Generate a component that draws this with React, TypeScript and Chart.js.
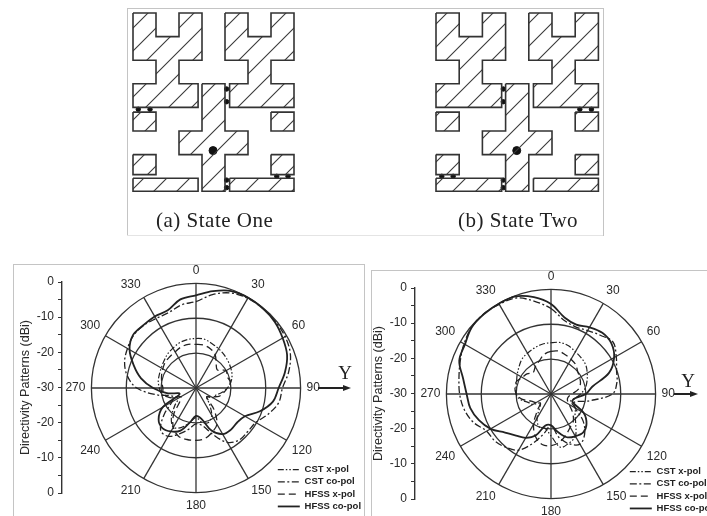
import React, { useEffect, useRef } from "react";
import { Chart, registerables } from "chart.js";

Chart.register(...registerables);

const FONT = "'Liberation Sans', Arial, sans-serif";
const INK = "#2a2a2a";

// ---------- polar data (dBi, every 10 degrees, clockwise from 0) ----------
const angleLabels = Array.from({ length: 36 }, (_, i) => String(i * 10));
const seriesNames = ["CST x-pol", "CST co-pol", "HFSS x-pol", "HFSS co-pol"];

const oneCstX = [-15.8,-15.8,-16.5,-17,-17.5,-18,-18.5,-19,-19.8,-21,-22.5,-24,-24.5,-26,-24,-21,-19.5,-20,-21.5,-20,-18,-17,-19,-22,-24,-22,-20,-19.5,-19,-18.8,-18.5,-18,-17.3,-16.8,-16.2,-15.9];
const oneCstCo = [-5.2,-2.8,-1,-0.3,-0.2,-0.3,-0.5,-1.2,-3,-5.2,-5.9,-8,-10.2,-10.6,-10.6,-12,-15.8,-19,-19.7,-18,-16,-14,-14.2,-18,-22,-23,-18.6,-13,-10,-8.2,-7.3,-6.6,-6.6,-7,-7,-5.8];
const oneHfssX = [-17.5,-17.5,-18,-19,-21,-22,-20,-20.5,-20,-21,-22,-23,-25,-26,-22,-18,-16.5,-15.3,-15,-15,-15.3,-17,-20,-24,-25,-22,-20.5,-20.5,-20,-19.5,-19,-18.5,-18.3,-18,-17.5,-17.3];
const oneHfssCo = [-3.4,-1.8,-0.4,-0.1,-0.2,-0.5,-1.3,-2.2,-4.1,-6.3,-7.6,-10.5,-13.8,-14.6,-14.4,-14.7,-17,-21,-22,-20,-17,-15.6,-15,-16,-19,-25,-21.5,-17.7,-14,-11,-8,-6.4,-6.5,-6.3,-6.3,-4.2];

const twoCstX = [-15.3,-15,-15.3,-16,-16.5,-17,-18,-19,-20,-21.5,-23,-24,-22,-21,-19,-16,-15,-14.5,-18,-20,-20,-22,-25,-26,-24,-23,-21,-20,-19.8,-19.5,-18.8,-18,-17,-16.5,-16,-15.5];
const twoCstCo = [-5.5,-8.5,-9.5,-9,-8,-6.8,-8.4,-10,-10.8,-12.4,-18.8,-23,-22,-18,-15,-13.4,-14.8,-17.5,-21,-18.5,-15,-11.4,-10,-9,-8.7,-6.3,-4.7,-3.8,-3.2,-2.3,-1.2,-0.3,0,-0.3,-0.7,-3];
const twoHfssX = [-17.8,-17.5,-18,-18.5,-19,-20,-20.5,-21,-22,-24,-25,-25,-24,-22,-20,-19,-17.5,-16,-15.2,-15.3,-17,-20,-24,-26,-25,-24,-21.5,-20,-19.5,-19.5,-20.5,-21,-22,-21,-20,-18.5];
const twoHfssCo = [-4.2,-7.7,-8.8,-7.9,-7.1,-7.4,-9.1,-12.3,-18,-20,-23,-23.5,-19.2,-16.7,-15.6,-16,-16.8,-19,-21,-20.8,-17.4,-15.5,-14.4,-12.8,-10,-8,-6.5,-5.8,-4.4,-2,-1.5,-0.3,-0.1,-0.1,-0.2,-1.8];

const seriesDash = [[6, 2, 1.5, 2, 1.5, 2], [7, 2.5, 2, 2.5], [7, 4], []];
const seriesWidth = [1.2, 1.3, 1.3, 1.8];

const axisTickLabels = ["0", "-10", "-20", "-30", "-20", "-10", "0"];
const axisTitle = "Directivity Patterns (dBi)";

// ---------- antenna layouts, in patch-grid units ----------
type P = [number, number];
const BAR_L = 2.83;
const BAR_R = 4.2;
const upperLeft: P[] = [[0,0],[1,0],[1,1],[2,1],[2,0],[3,0],[3,2],[2,2],[2,3],[BAR_L,3],[BAR_L,4],[0,4],[0,3],[1,3],[1,2],[0,2]];
const upperRight: P[] = [[4,0],[5,0],[5,1],[6,1],[6,0],[7,0],[7,2],[6,2],[6,3],[7,3],[7,4],[BAR_R,4],[BAR_R,3],[5,3],[5,2],[4,2]];
const centreCross: P[] = [[3,3],[4,3],[4,5],[5,5],[5,6],[4,6],[4,7.55],[3,7.55],[3,6],[2,6],[2,5],[3,5]];
const rectangle = (a: number, b: number, c: number, d: number): P[] => [[a,b],[c,b],[c,d],[a,d]];
const patches: P[][] = [
  upperLeft, upperRight, centreCross,
  rectangle(0, 4.2, 1, 5), rectangle(6, 4.2, 7, 5),
  rectangle(0, 6, 1, 6.85), rectangle(6, 6, 7, 6.85),
  rectangle(0, 7, BAR_L, 7.55), rectangle(BAR_R, 7, 7, 7.55),
];
const feedPoint: P = [3.48, 5.83];
const switchesOne: P[] = [[0.23,4.08],[0.74,4.08],[4.07,3.22],[4.07,3.76],[4.07,7.08],[4.07,7.4],[6.25,6.92],[6.74,6.92]];
const switchesTwo: P[] = [[2.9,3.22],[2.9,3.76],[2.9,7.08],[2.9,7.4],[6.2,4.08],[6.7,4.08],[0.25,6.92],[0.74,6.92]];

function hatch(): CanvasPattern | string {
  const size = 23;
  const c = document.createElement("canvas");
  c.width = size; c.height = size;
  const g = c.getContext("2d")!;
  g.strokeStyle = "#3a3a3a";
  g.lineWidth = 1.1;
  g.beginPath();
  g.moveTo(-2, size + 2); g.lineTo(size + 2, -2);
  g.moveTo(-2, 2); g.lineTo(2, -2);
  g.moveTo(size - 2, size + 2); g.lineTo(size + 2, size - 2);
  g.stroke();
  return g.createPattern(c, "repeat") || "transparent";
}

function Schematic() {
  const ref = useRef<HTMLCanvasElement>(null);
  useEffect(() => {
    const pattern = hatch();
    const close = (p: P[]) => [...p, p[0]].map(([x, y]) => ({ x, y }));
    const pts = (p: P[]) => p.map(([x, y]) => ({ x, y }));
    const panel = (xAxisID: string) => [
      ...patches.map((p) => ({
        xAxisID, yAxisID: "y", data: close(p), showLine: true, tension: 0, fill: "shape",
        backgroundColor: pattern, borderColor: "#333", borderWidth: 1.6, pointRadius: 0,
      })),
    ];
    const dots = (xAxisID: string, p: P[], radius: number) => ({
      xAxisID, yAxisID: "y", data: pts(p), showLine: false,
      backgroundColor: "#111", borderColor: "#111", pointRadius: radius,
    });
    const cellA = 23, cellB = 23.2, cellY = 23.6;
    const W = 707, H = 240;
    const chart = new Chart(ref.current!, {
      type: "scatter",
      data: { datasets: [
        ...panel("xa"), dots("xa", switchesOne, 2.2), dots("xa", [feedPoint], 4),
        ...panel("xb"), dots("xb", switchesTwo, 2.2), dots("xb", [feedPoint], 4),
      ] as any },
      options: {
        animation: false, responsive: false, events: [],
        layout: { padding: 0, autoPadding: false },
        plugins: { legend: { display: false }, tooltip: { enabled: false } },
        scales: {
          xa: { type: "linear", axis: "x", display: false, min: -133 / cellA, max: (W - 133) / cellA },
          xb: { type: "linear", axis: "x", display: false, min: -436 / cellB, max: (W - 436) / cellB },
          y: { type: "linear", display: false, reverse: true, min: -13 / cellY, max: (H - 13) / cellY },
        },
      } as any,
    });
    return () => chart.destroy();
  }, []);
  return <canvas ref={ref} width={707} height={240} style={{ position: "absolute", left: 0, top: 0 }} />;
}

const AXIS_PAD = 12;

function DbAxis({ left, top, height }: { left: number; top: number; height: number }) {
  const ref = useRef<HTMLCanvasElement>(null);
  useEffect(() => {
    const chart = new Chart(ref.current!, {
      type: "scatter",
      data: { datasets: [{ data: [] }] },
      options: {
        animation: false, responsive: false, events: [],
        layout: { padding: { top: AXIS_PAD, bottom: AXIS_PAD, left: 0, right: 0 }, autoPadding: false },
        plugins: { legend: { display: false }, tooltip: { enabled: false } },
        scales: {
          x: { display: false, min: 0, max: 1 },
          y: {
            min: 0, max: 30, reverse: true,
            border: { display: true, color: "#333", width: 1.4 },
            grid: { display: true, drawOnChartArea: false, drawTicks: true, tickLength: 4, color: "#333", lineWidth: 1 },
            ticks: {
              stepSize: 2.5, autoSkip: false, color: INK, padding: 4, maxRotation: 0,
              font: { family: FONT, size: 12 },
              callback: (v: any) => (Number(v) % 5 === 0 ? axisTickLabels[Number(v) / 5] : ""),
            },
            title: { display: true, text: axisTitle, color: INK, font: { family: FONT, size: 12.6 }, padding: { top: 0, bottom: 0 } },
            afterFit: (s: any) => { s.width = 44; },
          },
        },
      } as any,
    });
    return () => chart.destroy();
  }, []);
  return <canvas ref={ref} width={46} height={height + AXIS_PAD * 2} style={{ position: "absolute", left, top: top - AXIS_PAD }} />;
}

function Polar({ series, left, top, width, height, legendX, legendY }: {
  series: number[][]; left: number; top: number; width: number; height: number; legendX: number; legendY: number;
}) {
  const ref = useRef<HTMLCanvasElement>(null);
  useEffect(() => {
    const placeLegend = {
      id: "placeLegend",
      afterLayout(c: any) {
        const l = c.legend;
        if (!l) return;
        const w = l.width, h = l.height;
        l.left = legendX; l.right = legendX + w; l.top = legendY; l.bottom = legendY + h;
      },
    };
    const chart = new Chart(ref.current!, {
      type: "radar",
      data: {
        labels: angleLabels,
        datasets: series.map((data, i) => ({
          label: seriesNames[i], data,
          borderColor: "#222", backgroundColor: "transparent", borderWidth: seriesWidth[i],
          borderDash: seriesDash[i], tension: 0.35, fill: false, pointRadius: 0, pointHitRadius: 0,
        })),
      },
      options: {
        animation: false, responsive: false, events: [],
        layout: { padding: 0, autoPadding: false },
        plugins: {
          tooltip: { enabled: false },
          legend: {
            display: true, position: "chartArea", align: "start", reverse: false,
            labels: {
              usePointStyle: true, pointStyle: "line", pointStyleWidth: 22, boxHeight: 8,
              color: "#222", padding: 2.8, font: { family: FONT, size: 9.5, weight: "bold" },
              generateLabels: (c: any) =>
                Chart.defaults.plugins.legend.labels.generateLabels(c).map((item: any, i: number) => ({
                  ...item, lineDash: seriesDash[i], lineWidth: seriesWidth[i], strokeStyle: "#222",
                })),
            },
          },
        },
        scales: {
          r: {
            min: -30, max: 0,
            ticks: { display: false, stepSize: 10 },
            grid: { circular: true, color: "#333", lineWidth: 1.3 },
            border: { display: false },
            angleLines: {
              display: true,
              color: (c: any) => (c.index % 3 === 0 ? "#333" : "transparent"),
              lineWidth: (c: any) => (c.index % 3 === 0 ? 1.3 : 0),
            },
            pointLabels: {
              display: true, padding: 6, color: INK, font: { family: FONT, size: 12 },
              callback: (label: string, i: number) => (i % 3 === 0 ? label : ""),
            },
          },
        },
      } as any,
      plugins: [placeLegend],
    });
    return () => chart.destroy();
  }, []);
  return <canvas ref={ref} width={width} height={height} style={{ position: "absolute", left, top }} />;
}

const Line = (s: React.CSSProperties) => <div style={{ position: "absolute", background: "#c4c4c4", ...s }} />;

const YArrow = ({ x1, x2, y, yX, yY }: { x1: number; x2: number; y: number; yX: number; yY: number }) => (
  <>
    <div style={{ position: "absolute", left: x1, top: y - 0.75, width: x2 - x1 - 6, height: 1.5, background: "#222" }} />
    <div style={{ position: "absolute", left: x2 - 8, top: y - 3, width: 0, height: 0, borderTop: "3px solid transparent", borderBottom: "3px solid transparent", borderLeft: "8px solid #222" }} />
    <div style={{ position: "absolute", left: yX - 10, top: yY - 12, width: 20, textAlign: "center", fontFamily: "'Liberation Serif', serif", fontSize: 19, lineHeight: "24px", color: "#222" }}>Y</div>
  </>
);

const Caption = ({ x, text }: { x: number; text: string }) => (
  <div style={{ position: "absolute", left: x, top: 208, fontFamily: "'Liberation Serif', serif", fontSize: 21, letterSpacing: 0.5, lineHeight: "24px", color: "#222", whiteSpace: "nowrap" }}>{text}</div>
);

export default function App() {
  return (
    <div style={{ position: "fixed", left: 0, top: 0, width: 707, height: 516, overflow: "hidden", background: "#fff", filter: "blur(0.45px)" }}>
      <Line left={127} top={8} width={476} height={1} />
      <Line left={127} top={8} width={1} height={228} />
      <Line left={603} top={8} width={1} height={228} />
      <Line left={127} top={235} width={476} height={1} background="#e4e4e4" />
      <Line left={13} top={264} width={351} height={1} />
      <Line left={13} top={264} width={1} height={252} />
      <Line left={364} top={264} width={1} height={252} />
      <Line left={371} top={270} width={336} height={1} />
      <Line left={371} top={270} width={1} height={246} />

      <Schematic />
      <Caption x={156} text="(a) State One" />
      <Caption x={458} text="(b) State Two" />

      <DbAxis left={18} top={282} height={211} />
      <Polar series={[oneCstX, oneCstCo, oneHfssX, oneHfssCo]} left={26} top={263} width={340} height={250} legendX={249} legendY={199} />
      <YArrow x1={318} x2={351} y={388} yX={345} yY={373} />

      <DbAxis left={371} top={288} height={211} />
      <Polar series={[twoCstX, twoCstCo, twoHfssX, twoHfssCo]} left={395} top={269} width={312} height={250} legendX={232} legendY={195} />
      <YArrow x1={674} x2={698} y={394} yX={688} yY={381} />
    </div>
  );
}
